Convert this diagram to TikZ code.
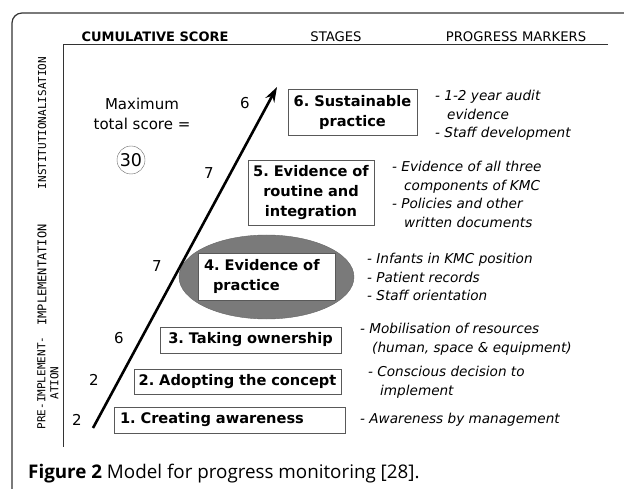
\documentclass[tikz,border=0pt]{standalone}
\usepackage{fontspec}
\setmainfont{DejaVu Sans}
\newfontfamily\monofont{DejaVu Sans Mono}
\newfontfamily\captionfont{Open Sans}
\usetikzlibrary{arrows.meta}
\usetikzlibrary{shapes}
\frenchspacing

\newcommand{\contline}{\hspace*{12pt}}

\begin{document}
\begin{tikzpicture}[x=1pt, y=-1pt,
    stagebox/.style={draw=black!65, fill=white, line width=0.8pt, inner xsep=3pt, inner ysep=0pt,
        font=\bfseries\fontsize{14.6}{20}\selectfont},
    marker/.style={anchor=north west, inner sep=0pt, align=left,
        font=\itshape\fontsize{13.6}{18.7}\selectfont},
    score/.style={font=\fontsize{15}{20}\selectfont},
    phase/.style={rotate=90, inner sep=0pt, font=\monofont\fontsize{11}{13}\selectfont},
    header/.style={font=\fontsize{13.2}{15}\selectfont}]

    % Page size and outer frame
    \useasboundingbox (0,0) rectangle (624,489);
    \draw[line width=1.2pt, black!80, rounded corners=10pt] (12,492) -- (12,13) -- (630,13);

    % Column headers and the two axis lines
    \node[header, font=\bfseries\fontsize{13}{15}\selectfont] (hscore) at (155,37) {CUMULATIVE SCORE};
    \node[header] (hstage) at (336,37) {STAGES};
    \node[header] (hmark) at (516,37) {PROGRESS MARKERS};
    \draw[black!80] (608,44) -- (63,44) -- (63,447);

    % Phase labels on the left
    \node[phase] (inst) at (42,123) {INSTITUTIONALISATION};
    \node[phase, font=\monofont\fontsize{12}{13}\selectfont] (impl) at (42,275) {IMPLEMENTATION};
    \node[phase, align=center] (pre) at (48,383) {PRE-IMPLEMENT-\\ATION};

    % Grey halo behind stage 4
    \node[ellipse, draw=black!60, fill=black!52, minimum width=175pt, minimum height=84pt] (halo) at (266.5,277) {};

    % The six stages
    \node[stagebox, text width=123pt, minimum height=46pt, align=center] (s6) at (352.5,112.5) {6. Sustainable\\practice};
    \node[stagebox, text width=120pt, minimum height=65pt, align=center] (s5) at (311,192.5) {5. Evidence of\\routine and\\integration};
    \node[stagebox, text width=131pt, minimum height=47pt, align=left] (s4) at (266.5,276.5) {\hspace*{3pt}4. Evidence of\\\contline practice};
    \node[stagebox, text width=175pt, minimum height=26pt, align=center] (s3) at (250.5,340) {3. Taking ownership};
    \node[stagebox, text width=201pt, minimum height=25pt, align=center] (s2) at (237.5,381.5) {2. Adopting the concept};
    \node[stagebox, text width=225pt, minimum height=26pt, align=left] (s1) at (229.5,420) {\hspace*{3pt}1. Creating awareness};

    % Rising arrow of the cumulative score
    \coordinate (start) at (93,428);
    \coordinate (tip) at (277,87);
    \draw[line width=2.6pt, -{Stealth[length=15pt, width=10pt]}] (start) -- (tip);

    % Score of each stage
    \node[score] (p1) at (77,420) {2};
    \node[score] (p2) at (94,380) {2};
    \node[score] (p3) at (119,338) {6};
    \node[score] (p4) at (157,266) {7};
    \node[score] (p5) at (209,173) {7};
    \node[score] (p6) at (245,103) {6};

    % Maximum score
    \node[score, align=center] (maxtext) at (142,114) {Maximum\\total score =};
    \node[score, circle, draw=black!60, inner sep=0pt, minimum size=28pt, font=\fontsize{17.5}{20}\selectfont] (total) at (131,160) {30};

    % Progress markers
    \node[marker] (m6) at (435,90) {- 1-2 year audit\\\contline evidence\\- Staff development};
    \node[marker] (m5) at (392,161) {- Evidence of all three\\\contline components of KMC\\- Policies and other\\\contline written documents};
    \node[marker] (m4) at (367,253) {- Infants in KMC position\\- Patient records\\- Staff orientation};
    \node[marker] (m3) at (360,323) {- Mobilisation of resources\\\contline (human, space \& equipment)};
    \node[marker] (m2) at (368,366) {- Conscious decision to\\\contline implement};
    \node[marker] (m1) at (360,413) {- Awareness by management};

    % Caption
    \node[anchor=base west, inner sep=0pt, font=\captionfont\fontsize{18.8}{20}\selectfont] (caption) at (28,478) {\textbf{Figure 2} Model for progress monitoring [28].};
\end{tikzpicture}
\end{document}
